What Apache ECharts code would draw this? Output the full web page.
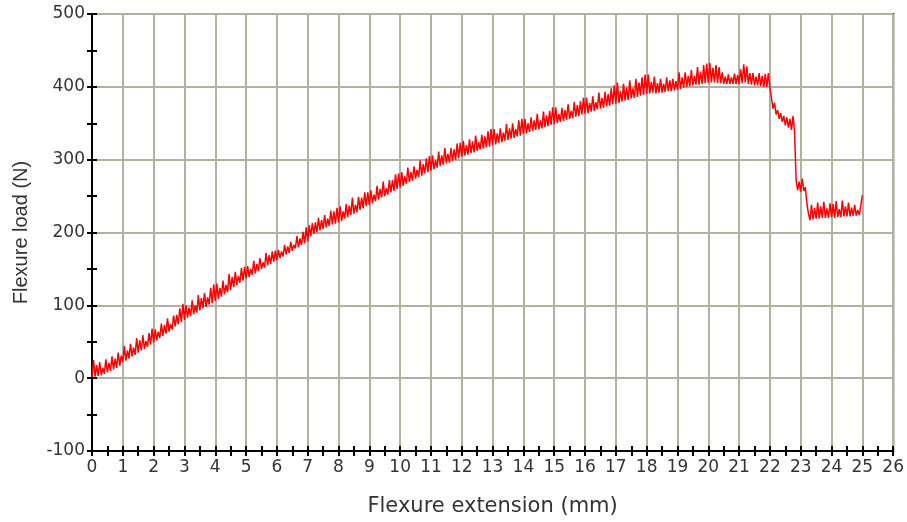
<!DOCTYPE html>
<html>
<head>
<meta charset="utf-8">
<script src="https://cdn.jsdelivr.net/npm/echarts@6/dist/echarts.min.js"></script>
<style>
  html, body { margin: 0; padding: 0; background: #ffffff; }
  #chart { width: 907px; height: 522px; }
</style>
</head>
<body>
<div id="chart"></div>
<script>
// Flexure test record: load sampled every 0.05 mm of extension
const extensionStart = 0;    // mm
const extensionStep = 0.05;  // mm between samples
const loadN = [
  // 0 - 1 mm
  1, 25, 2, 18, 3, 22, 4, 14, 6, 26, 8, 21, 10, 30, 12, 27, 14, 35, 17, 31,
  // 1 - 2 mm
  22, 44, 24, 38, 27, 47, 30, 42, 32, 55, 35, 52, 38, 59, 40, 51, 43, 62, 46, 68,
  // 2 - 3 mm
  49, 67, 52, 64, 55, 75, 58, 73, 61, 82, 64, 74, 67, 86, 71, 87, 74, 96, 77, 102,
  // 3 - 4 mm
  80, 100, 83, 97, 85, 107, 88, 100, 90, 114, 93, 110, 96, 117, 98, 111, 101, 124, 103, 129,
  // 4 - 5 mm
  106, 130, 109, 124, 112, 134, 115, 128, 118, 143, 121, 139, 125, 146, 128, 140, 131, 151, 134, 153,
  // 5 - 6 mm
  137, 154, 139, 150, 142, 161, 144, 157, 147, 165, 150, 159, 152, 172, 155, 169, 157, 174, 160, 175,
  // 6 - 7 mm
  162, 176, 165, 174, 167, 183, 170, 181, 172, 187, 175, 183, 178, 195, 180, 192, 183, 201, 185, 207,
  // 7 - 8 mm
  188, 210, 195, 213, 198, 214, 200, 220, 203, 217, 205, 224, 207, 219, 209, 230, 211, 229, 212, 234,
  // 8 - 9 mm
  214, 236, 216, 229, 219, 239, 221, 237, 224, 248, 226, 238, 228, 249, 231, 248, 233, 255, 236, 255,
  // 9 - 10 mm
  238, 258, 240, 252, 243, 264, 245, 260, 248, 270, 250, 261, 252, 272, 255, 272, 257, 280, 260, 281,
  // 10 - 11 mm
  262, 283, 264, 277, 267, 289, 269, 283, 271, 291, 274, 286, 276, 299, 278, 294, 281, 302, 283, 305,
  // 11 - 12 mm
  285, 306, 287, 299, 289, 311, 291, 306, 293, 316, 295, 308, 296, 316, 298, 314, 300, 322, 302, 323,
  // 12 - 13 mm
  304, 326, 306, 320, 307, 328, 309, 325, 310, 333, 312, 324, 314, 334, 315, 332, 317, 339, 318, 342,
  // 13 - 14 mm
  320, 342, 321, 336, 323, 343, 324, 337, 326, 349, 327, 343, 329, 350, 330, 342, 332, 354, 333, 356,
  // 14 - 15 mm
  335, 356, 336, 350, 338, 358, 339, 354, 341, 363, 342, 354, 343, 366, 345, 361, 346, 367, 348, 372,
  // 15 - 16 mm
  349, 372, 350, 363, 352, 371, 353, 368, 355, 376, 356, 367, 357, 379, 359, 375, 360, 380, 362, 385,
  // 16 - 17 mm
  363, 385, 364, 378, 366, 387, 367, 379, 369, 392, 370, 385, 371, 393, 373, 390, 374, 398, 376, 402,
  // 17 - 18 mm
  377, 406, 378, 394, 380, 404, 381, 399, 382, 409, 384, 398, 385, 411, 386, 406, 388, 413, 389, 417,
  // 18 - 19 mm
  390, 417, 391, 407, 392, 414, 391, 405, 392, 411, 392, 404, 393, 413, 394, 409, 394, 411, 395, 408,
  // 19 - 20 mm
  396, 420, 397, 413, 399, 420, 400, 415, 401, 423, 402, 415, 403, 427, 403, 421, 404, 430, 405, 432,
  // 20 - 21 mm
  405, 433, 406, 426, 406, 430, 405, 427, 405, 420, 404, 414, 404, 417, 404, 413, 404, 418, 404, 416,
  // 21 - 22 mm
  404, 424, 405, 431, 406, 428, 404, 419, 403, 419, 402, 414, 402, 419, 401, 415, 400, 418, 400, 419,
  // 22 - 23 mm
  399, 385, 370, 378, 362, 368, 356, 364, 352, 360, 347, 358, 344, 356, 341, 360, 338, 272, 258, 270,
  // 23 - 24 mm
  256, 274, 257, 262, 240, 226, 217, 238, 218, 234, 219, 241, 219, 236, 220, 242, 220, 233, 220, 240,
  // 24 - 25 mm
  221, 239, 220, 243, 221, 232, 221, 244, 222, 236, 222, 241, 222, 234, 223, 238, 223, 231, 224, 226,
  // 25 mm
  251
];

const extensionRange = { min: 0, max: 26, interval: 1 };
const loadRange = { min: -100, max: 500, interval: 100 };

const points = loadN.map((v, i) => [
  Math.round((extensionStart + i * extensionStep) * 100) / 100,
  v
]);

const LABEL_FONT = 'DejaVu Sans';
const TEXT = '#333333';
const GRID_LINE = '#b3b0a2';
const tickStyle = { color: '#000000', width: 2 };

function baseAxis(range, extra) {
  return Object.assign({
    type: 'value',
    min: range.min,
    max: range.max,
    interval: range.interval
  }, extra);
}

const chart = echarts.init(document.getElementById('chart'), null, { renderer: 'canvas' });

chart.setOption({
  animation: false,
  backgroundColor: '#ffffff',
  grid: {
    left: 92, right: 12, top: 14, bottom: 68,
    show: true, borderColor: '#000000', borderWidth: 2,
    containLabel: false
  },
  xAxis: [
    baseAxis(extensionRange, {
      position: 'bottom',
      name: 'Flexure extension (mm)',
      nameLocation: 'middle',
      nameGap: 45,
      nameTextStyle: { fontFamily: LABEL_FONT, fontSize: 21, color: TEXT },
      axisLine: { show: true, onZero: false, lineStyle: { color: '#000000', width: 2 } },
      axisTick: { show: true, length: 5, lineStyle: tickStyle },
      minorTick: { show: true, splitNumber: 2, length: 5, lineStyle: tickStyle },
      axisLabel: { fontFamily: LABEL_FONT, fontSize: 17, color: TEXT, margin: 8 },
      splitLine: { show: true, lineStyle: { color: GRID_LINE, width: 2 } }
    }),
    baseAxis(extensionRange, {
      position: 'bottom',
      axisLine: { show: false, onZero: false },
      axisTick: { show: true, inside: true, length: 5, lineStyle: tickStyle },
      minorTick: { show: true, splitNumber: 2, length: 5, lineStyle: tickStyle },
      axisLabel: { show: false },
      splitLine: { show: false }
    })
  ],
  yAxis: [
    baseAxis(loadRange, {
      position: 'left',
      name: 'Flexure load (N)',
      nameLocation: 'middle',
      nameGap: 61,
      nameTextStyle: { fontFamily: 'Liberation Sans', fontSize: 20, color: TEXT },
      axisLine: { show: true, onZero: false, lineStyle: { color: '#000000', width: 2 } },
      axisTick: { show: true, length: 5, lineStyle: tickStyle },
      minorTick: { show: true, splitNumber: 2, length: 5, lineStyle: tickStyle },
      axisLabel: { fontFamily: LABEL_FONT, fontSize: 17, color: TEXT, margin: 7 },
      splitLine: { show: true, lineStyle: { color: GRID_LINE, width: 2 } }
    }),
    baseAxis(loadRange, {
      position: 'left',
      axisLine: { show: false, onZero: false },
      axisTick: { show: true, inside: true, length: 5, lineStyle: tickStyle },
      minorTick: { show: true, splitNumber: 2, length: 5, lineStyle: tickStyle },
      axisLabel: { show: false },
      splitLine: { show: false }
    })
  ],
  series: [{
    type: 'line',
    xAxisIndex: 0,
    yAxisIndex: 0,
    data: points,
    showSymbol: false,
    symbol: 'none',
    lineStyle: { color: '#ff0000', width: 1.5 },
    z: 5
  }]
});
</script>
</body>
</html>
